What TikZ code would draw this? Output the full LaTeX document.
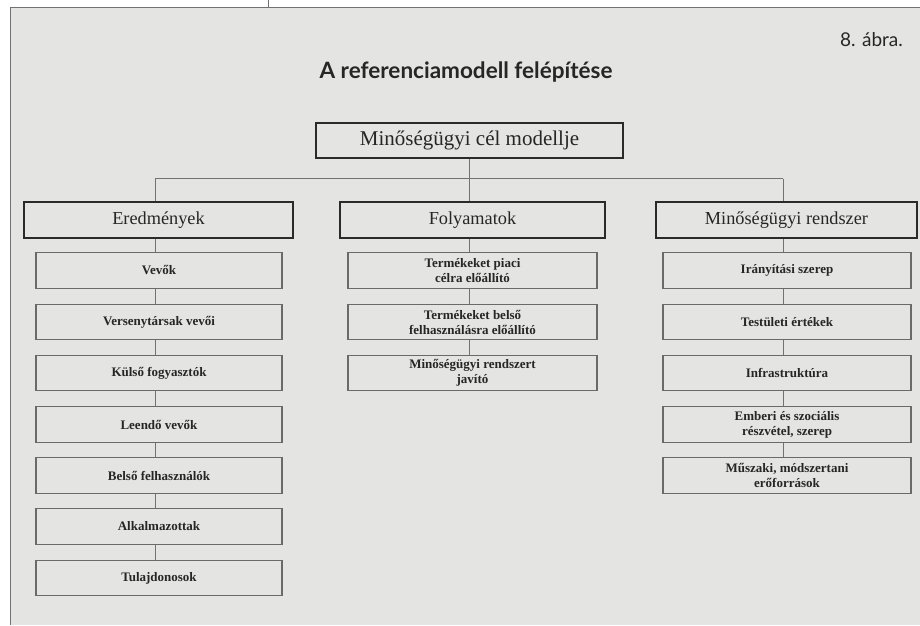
\documentclass[tikz,border=0pt]{standalone}
\usepackage{fontspec}
\setmainfont{Liberation Serif}
\newfontfamily\titlefont{Lato}
\usetikzlibrary{calc}
\definecolor{pagebg}{HTML}{E4E4E2}
\definecolor{inkdark}{HTML}{2A2A2A}
\definecolor{boxline}{HTML}{6A6A6A}
\definecolor{connline}{HTML}{727272}
\definecolor{txt}{HTML}{262626}
\begin{document}
\begin{tikzpicture}[x=1pt,y=-1pt,
  topbox/.style={draw=inkdark, line width=2pt, minimum height=35pt, inner sep=0pt,
    font=\fontsize{21}{23}\selectfont, text=txt},
  headbox/.style={draw=inkdark, line width=2.2pt, minimum height=36pt, inner sep=0pt,
    font=\fontsize{18.3}{20}\selectfont, text=txt},
  subbox/.style={draw=boxline, line width=1.2pt, minimum height=35.5pt, inner sep=0pt,
    align=center, font=\bfseries\fontsize{13}{15}\selectfont, text=txt},
  lsub/.style={subbox, minimum width=246pt},
  msub/.style={subbox, minimum width=249pt},
  rsub/.style={subbox, minimum width=248pt},
  conn/.style={draw=connline, line width=1pt}]
% page
\useasboundingbox (0,0) rectangle (920,625);
\fill[white] (0,0) rectangle (920,625);
\fill[pagebg] (10,7) rectangle (920,625);
\draw[connline, line width=1pt] (10,625) -- (10,7) -- (920,7);
\draw[connline, line width=1pt] (268,0) -- (268,7);
% titles
\node[font=\titlefont\fontsize{19}{21}\selectfont, text=txt] (fig) at (871.5,40) {8. ábra.};
\node[font=\titlefont\bfseries\fontsize{22.5}{25}\selectfont, text=txt] (title) at (466,72) {A referenciamodell felépítése};
% top box
\node[topbox, minimum width=307pt] (goal) at (469.5,140.5) {Minőségügyi cél modellje};
% headers
\node[headbox, minimum width=269pt] (ered) at (158.5,220) {Eredmények};
\node[headbox, minimum width=265pt] (foly) at (472.5,220) {Folyamatok};
\node[headbox, minimum width=261pt] (rend) at (786.5,220) {Minőségügyi rendszer};
% left column
\node[lsub] (l1) at (159,270.5) {Vevők};
\node[lsub] (l2) at (159,322) {Versenytársak vevői};
\node[lsub] (l3) at (159,373) {Külső fogyasztók};
\node[lsub] (l4) at (159,424.5) {Leendő vevők};
\node[lsub] (l5) at (159,475.5) {Belső felhasználók};
\node[lsub] (l6) at (159,526.5) {Alkalmazottak};
\node[lsub] (l7) at (159,578) {Tulajdonosok};
% middle column
\node[msub] (m1) at (472.5,270.5) {Termékeket piaci\\célra előállító};
\node[msub] (m2) at (472.5,322) {Termékeket belső\\felhasználásra előállító};
\node[msub] (m3) at (472.5,373) {Minőségügyi rendszert\\javító};
% right column
\node[rsub] (r1) at (787,270.5) {Irányítási szerep};
\node[rsub] (r2) at (787,322) {Testületi értékek};
\node[rsub] (r3) at (787,373) {Infrastruktúra};
\node[rsub] (r4) at (787,424.5) {Emberi és szociális\\részvétel, szerep};
\node[rsub] (r5) at (787,475.5) {Műszaki, módszertani\\erőforrások};
% connector guides
\coordinate (xl) at (155,0);
\coordinate (xm) at (469.5,0);
\coordinate (xr) at (783,0);
\coordinate (bus) at (0,178.5);
% connectors
\draw[conn] (goal.south) -- (goal.south |- bus);
\draw[conn] (bus -| xl) -- (bus -| xr);
\draw[conn] (bus -| xl) -- (ered.north -| xl);
\draw[conn] (bus -| xm) -- (foly.north -| xm);
\draw[conn] (bus -| xr) -- (rend.north -| xr);
\foreach \a/\b in {ered/l1,l1/l2,l2/l3,l3/l4,l4/l5,l5/l6,l6/l7}
  \draw[conn] (\a.south -| xl) -- (\b.north -| xl);
\foreach \a/\b in {foly/m1,m1/m2,m2/m3}
  \draw[conn] (\a.south -| xm) -- (\b.north -| xm);
\foreach \a/\b in {rend/r1,r1/r2,r2/r3,r3/r4,r4/r5}
  \draw[conn] (\a.south -| xr) -- (\b.north -| xr);
\end{tikzpicture}
\end{document}
